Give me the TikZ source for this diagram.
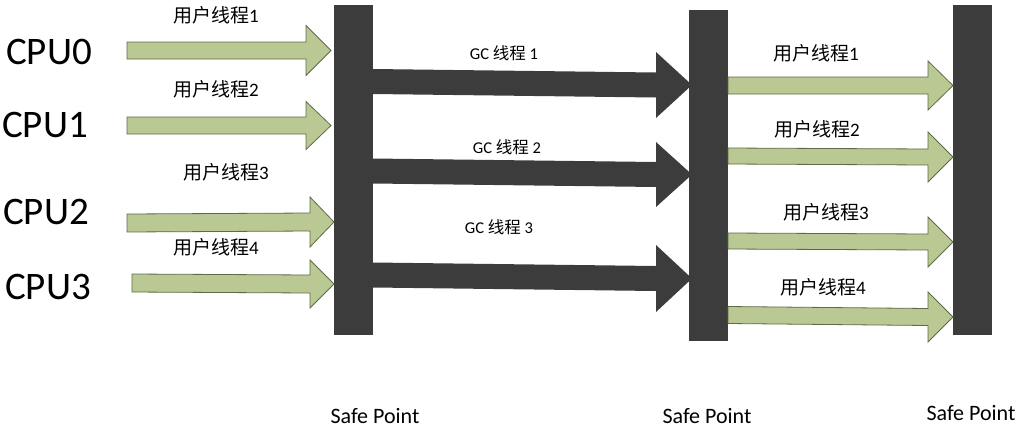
\documentclass[tikz,border=0pt]{standalone}
\usepackage{fontspec}
\setmainfont{Carlito}
\newfontfamily\cjk{Noto Sans CJK SC}
\definecolor{barc}{RGB}{60,60,60}
\definecolor{grn}{RGB}{186,201,148}
\definecolor{grnline}{RGB}{95,107,70}
% block arrow: style, x0, x1 (head base), xt (tip), y left centre, y right centre, shaft half, head half
\newcommand\blkarrow[8]{%
  \path[#1] (#2,#5-#7) -- (#3,#6-#7) -- (#3,#6-#8) -- (#4,#6) -- (#3,#6+#8)
    -- (#3,#6+#7) -- (#2,#5+#7) -- cycle;}
\begin{document}
\begin{tikzpicture}[x=1pt,y=-1pt,
  bar/.style={fill=barc,draw=none},
  garrow/.style={fill=grn,draw=grnline,line width=0.8pt,line join=miter},
  darrow/.style={fill=barc,draw=none},
  cpu/.style={inner sep=0pt,font=\fontsize{39}{39}\selectfont},
  ulab/.style={inner sep=0pt,font=\fontsize{19}{19}\selectfont},
  glab/.style={inner sep=0pt,font=\fontsize{16.5}{16.5}\selectfont},
  slab/.style={inner sep=0pt,font=\fontsize{22}{22}\selectfont}]
\useasboundingbox (0,0) rectangle (1020,432);
% safe point bars
\path[bar] (334,5) rectangle (373,335);
\path[bar] (689,10) rectangle (728,341);
\path[bar] (953,5) rectangle (992,335);
\coordinate (b1) at (353.5,170);
\coordinate (b2) at (708.5,175);
\coordinate (b3) at (972.5,170);
% left user-thread arrows
\blkarrow{garrow}{127}{306}{331}{50.5}{50.5}{8.5}{25}
\blkarrow{garrow}{127}{306}{331}{125.5}{125.5}{8.5}{24}
\blkarrow{garrow}{127}{310}{334}{223}{222}{9}{25}
\blkarrow{garrow}{132}{310}{334}{283}{284}{9}{24}
% GC thread arrows
\blkarrow{darrow}{373}{656}{692}{81.5}{85}{12.5}{33}
\blkarrow{darrow}{373}{656}{692}{171}{174.5}{12.5}{32.5}
\blkarrow{darrow}{373}{656}{692}{275}{278.5}{12.5}{33.5}
% right user-thread arrows
\blkarrow{garrow}{728}{928}{953}{85.5}{85.5}{8.5}{24.5}
\blkarrow{garrow}{728}{928}{953}{156}{157}{8}{25}
\blkarrow{garrow}{728}{928}{953}{241}{242}{8}{25}
\blkarrow{garrow}{728}{928}{953}{315}{317}{8.5}{25}
% CPU labels
\node[cpu] (c0) at (49,52) {CPU0};
\node[cpu] (c1) at (45,125) {CPU1};
\node[cpu] (c2) at (46,212) {CPU2};
\node[cpu] (c3) at (48,287) {CPU3};
% left labels
\node[ulab] (u1) at (216,15) {{\cjk 用户线程}1};
\node[ulab] (u2) at (216,89) {{\cjk 用户线程}2};
\node[ulab] (u3) at (226,172) {{\cjk 用户线程}3};
\node[ulab] (u4) at (216,247) {{\cjk 用户线程}4};
% GC labels
\node[glab] (g1) at (504,53) {GC {\cjk 线程} 1};
\node[glab] (g2) at (507,147) {GC {\cjk 线程} 2};
\node[glab] (g3) at (499,227) {GC {\cjk 线程} 3};
% right labels
\node[ulab] (r1) at (816,53) {{\cjk 用户线程}1};
\node[ulab] (r2) at (817,129) {{\cjk 用户线程}2};
\node[ulab] (r3) at (826,212) {{\cjk 用户线程}3};
\node[ulab] (r4) at (823,287) {{\cjk 用户线程}4};
% safe point labels
\node[slab] (s1) at (375,416) {Safe Point};
\node[slab] (s2) at (707,416) {Safe Point};
\node[slab] (s3) at (971,413) {Safe Point};
\end{tikzpicture}
\end{document}
